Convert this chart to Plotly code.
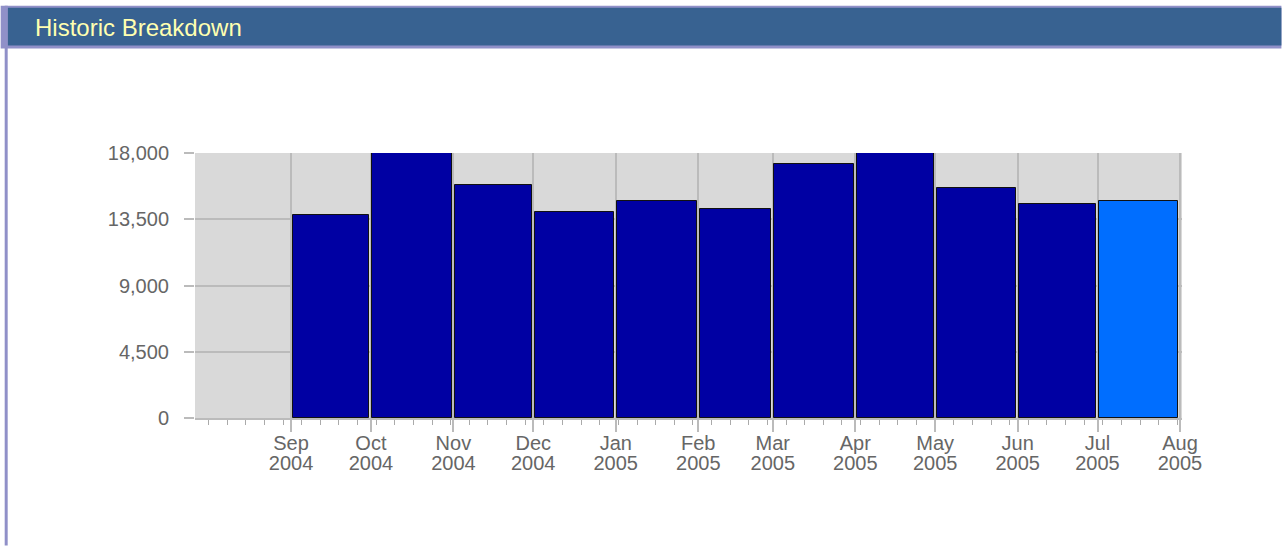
import plotly.graph_objects as go
import pandas as pd

# ---- data ----
month_starts = ["2004-09-01", "2004-10-01", "2004-11-01", "2004-12-01", "2005-01-01",
                "2005-02-01", "2005-03-01", "2005-04-01", "2005-05-01", "2005-06-01",
                "2005-07-01"]
values = [13800, 17970, 15810, 14000, 14730, 14180, 17230, 17970, 15610, 14540, 14730]
bar_colors = ["#0000A3"] * 10 + ["#006EFF"]
tick_dates = ["2004-09-01", "2004-10-01", "2004-11-01", "2004-12-01", "2005-01-01",
              "2005-02-01", "2005-03-01", "2005-04-01", "2005-05-01", "2005-06-01",
              "2005-07-01", "2005-08-01"]
tick_months = ["Sep", "Oct", "Nov", "Dec", "Jan", "Feb", "Mar", "Apr", "May", "Jun", "Jul", "Aug"]
tick_years = ["2004", "2004", "2004", "2004", "2005", "2005", "2005", "2005", "2005", "2005",
              "2005", "2005"]
y_ticks = [0, 4500, 9000, 13500, 18000]
title_text = "Historic Breakdown"

# ---- geometry ----
W, H = 1282, 546
L, R, T, B = 194.5, 99.5, 152.7, 127.7
PW, PH = W - L - R, H - T - B

def px(x):
    return (x - L) / PW

def py(y):
    return 1 - (y - T) / PH

DAY = 86400000
starts = pd.to_datetime(month_starts)
ends = starts + pd.offsets.MonthBegin(1)
gap = 0.6 * DAY
widths = [(e - s).total_seconds() * 1000 - 2 * gap for s, e in zip(starts, ends)]

FONT = "Liberation Sans, Arial, sans-serif"
GRID = "#BBBBBB"
LABEL = "#666666"

fig = go.Figure()
fig.add_trace(go.Bar(
    x=month_starts, y=values, width=widths, offset=gap,
    marker=dict(color=bar_colors, line=dict(color="#111111", width=1)),
    showlegend=False, hoverinfo="x+y",
))
# invisible trace to carry the year axis
fig.add_trace(go.Scatter(x=tick_dates, y=[None] * len(tick_dates), xaxis="x2",
                         mode="markers", showlegend=False, hoverinfo="skip"))

xrange = ["2004-07-26 22:00", "2005-08-01 18:00"]

fig.update_layout(
    width=W, height=H,
    margin=dict(l=L, r=R, t=T, b=B, pad=0),
    paper_bgcolor="white", plot_bgcolor="#D9D9D9",
    font=dict(family=FONT, size=20, color=LABEL),
    bargap=0,
    xaxis=dict(
        type="date", range=xrange,
        tickvals=tick_dates, ticktext=tick_months,
        ticks="outside", ticklen=12, tickwidth=2, tickcolor=GRID,
        showgrid=True, gridcolor=GRID, gridwidth=2,
        showline=True, linecolor=GRID, linewidth=2,
        tickfont=dict(size=20, color=LABEL),
        ticklabelstandoff=-6,
        minor=dict(dtick=7 * DAY, tick0="2004-08-29", ticks="outside", ticklen=5,
                   tickwidth=1, tickcolor="#AAAAAA", showgrid=False),
        zeroline=False, fixedrange=True,
    ),
    xaxis2=dict(
        type="date", range=xrange, overlaying="x", side="bottom", anchor="y",
        tickvals=tick_dates, ticktext=tick_years,
        ticks="", showgrid=False, showline=False, zeroline=False,
        tickfont=dict(size=20, color=LABEL),
        ticklabelstandoff=31, fixedrange=True,
    ),
    yaxis=dict(
        range=[0, 18000], tickvals=y_ticks, tickformat=",",
        ticks="outside", ticklen=10, tickwidth=2, tickcolor=GRID,
        showgrid=True, gridcolor=GRID, gridwidth=2,
        zeroline=False, showline=False,
        tickfont=dict(size=20, color=LABEL),
        ticklabelstandoff=11, fixedrange=True,
    ),
    shapes=[
        # header band
        dict(type="rect", xref="paper", yref="paper", x0=px(0), x1=px(W), y0=py(48), y1=py(5),
             fillcolor="#9090C8", line=dict(width=0), layer="above"),
        dict(type="rect", xref="paper", yref="paper", x0=px(7), x1=px(W), y0=py(45), y1=py(7),
             fillcolor="#386291", line=dict(width=0), layer="above"),
        # left border
        dict(type="rect", xref="paper", yref="paper", x0=px(4), x1=px(7), y0=py(H), y1=py(5),
             fillcolor="#9090C8", line=dict(width=0), layer="above"),
    ],
    annotations=[
        dict(text=title_text, xref="paper", yref="paper", x=px(32), y=py(27),
             xanchor="left", yanchor="middle", showarrow=False,
             font=dict(family=FONT, size=24, color="#FFFFB0")),
    ],
)

fig.write_html("out.html",
               config={"displayModeBar": False},
               post_script="document.body.style.margin='0';document.body.style.overflow='hidden';")
